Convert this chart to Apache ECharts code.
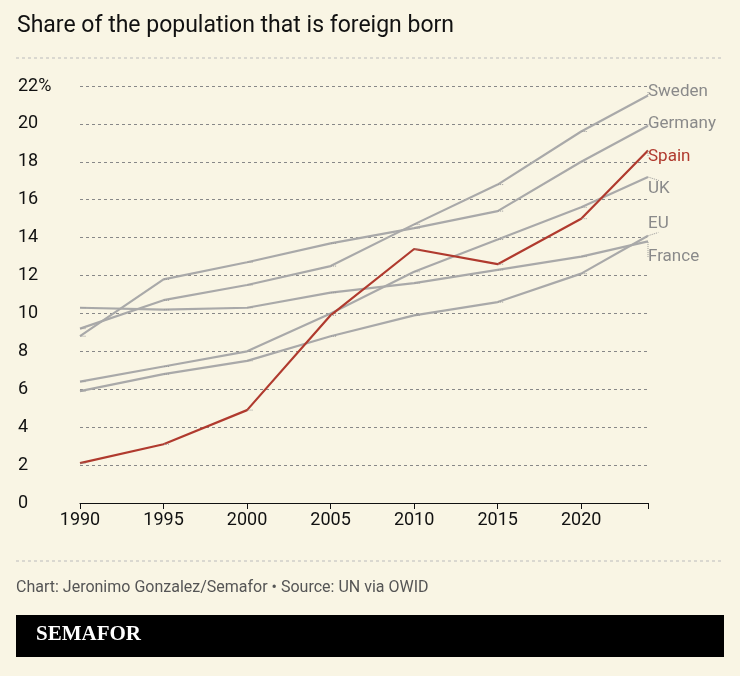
<!DOCTYPE html>
<html>
<head>
<meta charset="utf-8">
<script src="https://cdn.jsdelivr.net/npm/echarts@6/dist/echarts.min.js"></script>
<style>
  body { margin: 0; background: #f9f5e4; }
  #chart { width: 740px; height: 676px; }
</style>
</head>
<body>
<div id="chart"></div>
<script>
var years = [1990, 1995, 2000, 2005, 2010, 2015, 2020, 2024];
var sweden = [9.2, 10.7, 11.5, 12.5, 14.7, 16.8, 19.6, 21.5];
var germany = [8.8, 11.8, 12.7, 13.7, 14.5, 15.4, 18.0, 19.9];
var spain = [2.1, 3.1, 4.9, 9.9, 13.4, 12.6, 15.0, 18.6];
var uk = [6.4, 7.2, 8.0, 10.0, 12.2, 13.9, 15.6, 17.2];
var eu = [5.9, 6.8, 7.5, 8.8, 9.9, 10.6, 12.1, 14.1];
var france = [10.3, 10.2, 10.3, 11.1, 11.6, 12.3, 13.0, 13.8];
var yTicks = [0, 2, 4, 6, 8, 10, 12, 14, 16, 18, 20, 22];

var chart = echarts.init(document.getElementById('chart'));
var labelY = { Sweden: 92, Germany: 124, Spain: 157, UK: 189, EU: 224, France: 257 };
var last = years.length - 1;

function makeSeries(name, values, color) {
  var red = color === '#b03a2e';
  return {
    name: name, type: 'line', symbol: 'circle', symbolSize: 1, showSymbol: true,
    itemStyle: { color: 'rgba(0,0,0,0)' },
    data: values.map(function (v, i) { return [years[i], v]; }),
    lineStyle: { color: color, width: 2.2 },
    z: red ? 5 : 2,
    label: {
      show: true, position: 'right', fontSize: 17, fontFamily: 'Roboto',
      color: red ? '#b03a2e' : '#8a8a8a',
      formatter: function (p) { return p.dataIndex === last ? name : ''; }
    },
    labelLine: { show: true, lineStyle: { color: '#999', type: 'dotted', width: 1 } },
    labelLayout: function (p) {
      if (p.dataIndex !== last) return {};
      return { x: 648, y: labelY[name], align: 'left', verticalAlign: 'middle' };
    }
  };
}

chart.setOption({
  backgroundColor: '#f9f5e4',
  animation: false,
  textStyle: { fontFamily: 'Roboto' },
  title: { text: 'Share of the population that is foreign born', left: 12, top: 10,
    textStyle: { fontSize: 23, fontWeight: 'normal', color: '#111', fontFamily: 'Roboto' } },
  grid: { left: 80, right: 92, top: 86, bottom: 173 },
  xAxis: {
    type: 'value', min: 1990, max: 2024, interval: 5,
    axisLine: { lineStyle: { color: '#111', width: 1.2 } },
    axisTick: { show: true, length: 6, lineStyle: { color: '#111' } },
    axisLabel: { color: '#111', fontSize: 18, margin: 8,
      formatter: function (v) { return v % 5 === 0 ? String(v) : ''; } },
    splitLine: { show: false }
  },
  yAxis: {
    type: 'value', min: 0, max: 22, interval: 2,
    axisLine: { show: false }, axisTick: { show: false },
    axisLabel: { color: '#111', fontSize: 18, align: 'left', margin: 62,
      formatter: function (v) { return yTicks.indexOf(v) >= 0 ? (v === 22 ? '22%' : String(v)) : ''; } },
    splitLine: { lineStyle: { color: '#888', type: [3, 3], width: 1 } }
  },
  graphic: [
    { type: 'line', shape: { x1: 16, y1: 58, x2: 724, y2: 58 }, style: { stroke: '#bbb', lineDash: [3, 3] } },
    { type: 'line', shape: { x1: 16, y1: 561, x2: 724, y2: 561 }, style: { stroke: '#bbb', lineDash: [3, 3] } },
    { type: 'text', left: 16, top: 580, style: { text: 'Chart: Jeronimo Gonzalez/Semafor \u2022 Source: UN via OWID',
      fill: '#555', fontSize: 16, fontFamily: 'Roboto' } },
    { type: 'rect', shape: { x: 16, y: 615, width: 708, height: 42 }, style: { fill: '#000' } },
    { type: 'text', left: 36, top: 624, style: { text: 'SEMAFOR', fill: '#fff', fontSize: 21,
      fontWeight: 'bold', fontFamily: 'Liberation Serif' } }
  ],
  series: [
    makeSeries('Sweden', sweden, '#a9a9a9'),
    makeSeries('Germany', germany, '#a9a9a9'),
    makeSeries('UK', uk, '#a9a9a9'),
    makeSeries('EU', eu, '#a9a9a9'),
    makeSeries('France', france, '#a9a9a9'),
    makeSeries('Spain', spain, '#b03a2e')
  ]
});
</script>
</body>
</html>
